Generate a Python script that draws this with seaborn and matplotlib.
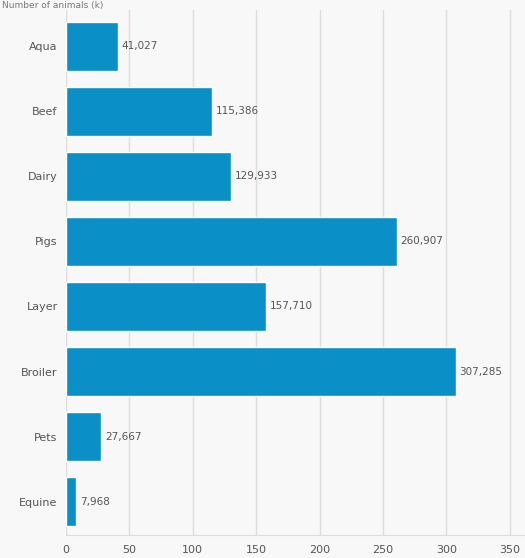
import matplotlib
matplotlib.use('Agg')
import matplotlib.pyplot as plt
import seaborn as sns
import pandas as pd

categories = ['Aqua', 'Beef', 'Dairy', 'Pigs', 'Layer', 'Broiler', 'Pets', 'Equine']
values = [41027, 115386, 129933, 260907, 157710, 307285, 27667, 7968]

df = pd.DataFrame({'cat': categories, 'val': [v / 1000 for v in values]})

sns.set_style('whitegrid')
plt.rcParams['font.family'] = ['DejaVu Sans']

fig = plt.figure(figsize=(5.25, 5.58), dpi=100, facecolor='#f8f8f8')
ax = fig.add_axes([0.1257, 0.0412, 0.874, 0.941])
ax.set_facecolor('#f8f8f8')

sns.barplot(data=df, x='val', y='cat', color='#0a8fc6', saturation=1, width=0.75, ax=ax)

# value labels at bar ends
for i, v in enumerate(values):
    ax.text(df['val'][i] + 3, i, f'{v:,}', va='center', ha='left', fontsize=7.5, color='#555555')

ax.set_xlim(0, 361.8)
ax.set_ylim(7.515, -0.5615)
ax.set_xticks(range(0, 351, 50))
ax.set_xlabel('')
ax.set_ylabel('')
ax.grid(axis='x', color='#dddddd', linewidth=1)
ax.grid(axis='y', visible=False)
for s in ['top', 'right', 'left']:
    ax.spines[s].set_visible(False)
ax.spines['bottom'].set_color('#dddddd')
ax.tick_params(axis='both', length=0, labelsize=8, colors='#555555')
ax.tick_params(axis='x', pad=7)
ax.tick_params(axis='y', pad=6)

fig.text(0.004, 0.998, 'Number of animals (k)', ha='left', va='top', fontsize=6.5, color='#777777')

fig.savefig('out.png', dpi=100, facecolor=fig.get_facecolor())
